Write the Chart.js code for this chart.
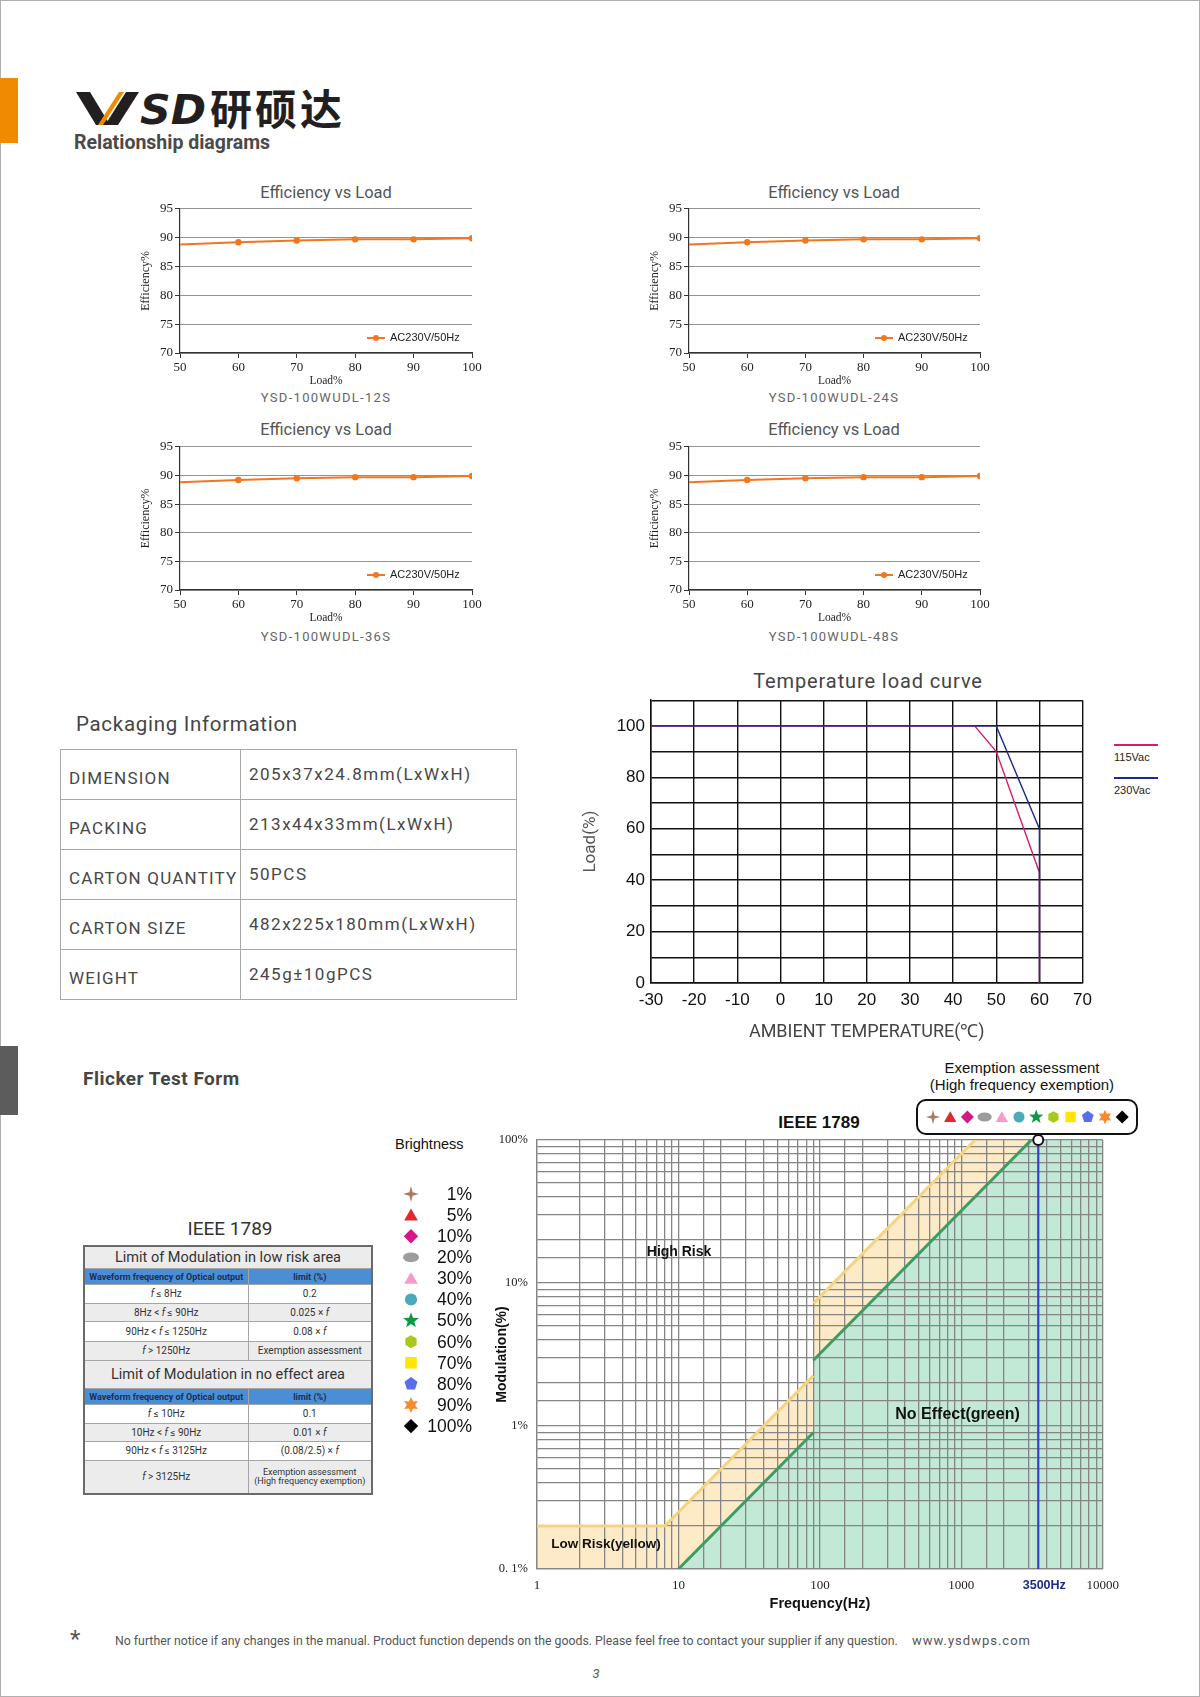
<!DOCTYPE html>
<html lang="en">
<head>
<meta charset="UTF-8">
<title>YSD-100WUDL relationship diagrams</title>
<script src="https://cdn.jsdelivr.net/npm/chart.js"></script>
<style>
  html, body { margin: 0; padding: 0; background: #fff; }
  #page {
    position: relative; width: 1200px; height: 1697px; overflow: hidden;
    font-family: Roboto, 'Noto Sans', sans-serif; color: #444;
  }
  .abs { position: absolute; }
  .frame { position: absolute; left: 0; top: 0; width: 1198px; height: 1695px; border: 1px solid #b0b0b0; }
  .ctr { position: absolute; width: 400px; text-align: center; white-space: nowrap; }
  .eff-title { font-size: 16.5px; color: #555; line-height: 20px; }
  .eff-sub { font-size: 13px; color: #666; letter-spacing: 1.3px; line-height: 16px; }
  .chart-box { position: absolute; }
  #pack { border-collapse: collapse; table-layout: fixed; border: 1px solid #9a9a9a; }
  #pack td { border: 1px solid #a8a8a8; height: 49px; padding: 0 0 0 8px; font-size: 17px; letter-spacing: 1.2px; color: #474747; }
  #pack td.k { padding-top: 6px; height: 43px; }
  #pack td.v { padding-bottom: 2px; height: 47px; letter-spacing: 1.5px; }
  #ieee { border-collapse: collapse; table-layout: fixed; border: 2px solid #6a6a6a; }
  #ieee td { border: 1px solid #a5a5a5; padding: 0; text-align: center; font-size: 10px; color: #333; line-height: 10px; }
  #ieee tr.sec td { background: #ececec; font-size: 14.5px; color: #333; line-height: 16px; }
  #ieee tr.hd td { background: #4a8fd6; color: #1d2d55; font-size: 9px; font-weight: bold; }
  #ieee tr.g td { background: #ececec; }
  #ieee td.sm { font-size: 9px; line-height: 9.5px; }
  .sans { font-family: 'Liberation Sans', Arial, sans-serif; }
</style>
</head>
<body>
<div id="page">
  <div class="frame"></div>
  <div class="abs" style="left:0;top:78px;width:18px;height:65px;background:#f08a00"></div>
  <div class="abs" style="left:0;top:1046px;width:18px;height:69px;background:#5c5c5c"></div>

  <!-- logo -->
  <svg class="abs" style="left:74px;top:90px" width="134" height="38" viewBox="0 0 134 38">
    <polygon points="2,2 16,2 36,35 22,35" fill="#231f20"/>
    <polygon points="24,35 29,35 50,2 45,2" fill="#f08a00"/>
    <polygon points="31,35 44,35 65,2 52,2" fill="#231f20"/>
    <text x="66" y="34" font-family="DejaVu Sans" font-weight="bold" font-style="italic" font-size="40" textLength="66" lengthAdjust="spacingAndGlyphs" fill="#231f20">SD</text>
  </svg>
  <div class="abs" style="left:210px;top:83px;font-family:'Noto Sans CJK SC';font-weight:bold;font-size:42px;line-height:48px;color:#231f20;letter-spacing:3px">研硕达</div>
  <div class="abs" style="left:74px;top:131px;font-size:19.5px;font-weight:bold;color:#4a4a4a;line-height:24px">Relationship diagrams</div>

  <!-- efficiency charts -->
  <div class="ctr eff-title" style="left:126px;top:183px">Efficiency vs Load</div>
  <div class="ctr eff-title" style="left:634px;top:183px">Efficiency vs Load</div>
  <div class="ctr eff-title" style="left:126px;top:420px">Efficiency vs Load</div>
  <div class="ctr eff-title" style="left:634px;top:420px">Efficiency vs Load</div>
  <div class="ctr eff-sub" style="left:126px;top:390px">YSD-100WUDL-12S</div>
  <div class="ctr eff-sub" style="left:634px;top:390px">YSD-100WUDL-24S</div>
  <div class="ctr eff-sub" style="left:126px;top:629px">YSD-100WUDL-36S</div>
  <div class="ctr eff-sub" style="left:634px;top:629px">YSD-100WUDL-48S</div>
  <div class="chart-box" id="box12"><canvas id="eff12"></canvas></div>
  <div class="chart-box" id="box24"><canvas id="eff24"></canvas></div>
  <div class="chart-box" id="box36"><canvas id="eff36"></canvas></div>
  <div class="chart-box" id="box48"><canvas id="eff48"></canvas></div>

  <!-- packaging -->
  <div class="abs" style="left:76px;top:711px;font-size:20.5px;letter-spacing:0.7px;color:#454545;line-height:26px">Packaging Information</div>
  <table id="pack" class="abs" style="left:60px;top:749px;width:456px">
    <colgroup><col style="width:180px"><col style="width:276px"></colgroup>
    <tr><td class="k">DIMENSION</td><td class="v">205x37x24.8mm(LxWxH)</td></tr>
    <tr><td class="k">PACKING</td><td class="v">213x44x33mm(LxWxH)</td></tr>
    <tr><td class="k">CARTON QUANTITY</td><td class="v">50PCS</td></tr>
    <tr><td class="k">CARTON SIZE</td><td class="v">482x225x180mm(LxWxH)</td></tr>
    <tr><td class="k">WEIGHT</td><td class="v">245g±10gPCS</td></tr>
  </table>

  <!-- temperature load curve -->
  <div class="ctr" style="left:668px;top:668px;font-size:20px;letter-spacing:0.9px;color:#444;line-height:26px">Temperature load curve</div>
  <div class="chart-box" id="boxTemp"><canvas id="tempChart"></canvas></div>
  <div class="abs" style="left:1114px;top:744px;width:44px;height:1.5px;background:#d81b72"></div>
  <div class="abs sans" style="left:1114px;top:750px;font-size:11px;color:#222;line-height:14px">115Vac</div>
  <div class="abs" style="left:1114px;top:777px;width:44px;height:1.5px;background:#1e2a8c"></div>
  <div class="abs sans" style="left:1114px;top:783px;font-size:11px;color:#222;line-height:14px">230Vac</div>

  <!-- flicker -->
  <div class="abs" style="left:83px;top:1067px;font-size:19px;font-weight:bold;color:#454545;line-height:24px;letter-spacing:0.5px">Flicker Test Form</div>
  <div class="ctr" style="left:30px;top:1217px;font-size:19px;color:#333;line-height:24px">IEEE 1789</div>
  <table id="ieee" class="abs" style="left:83px;top:1245px;width:288px">
    <colgroup><col style="width:164px"><col style="width:124px"></colgroup>
    <tr class="sec"><td colspan="2" style="height:21px">Limit of Modulation in low risk area</td></tr>
    <tr class="hd"><td style="height:15px">Waveform frequency of Optical output</td><td>limit (%)</td></tr>
    <tr><td style="height:18px"><i>f</i> ≤ 8Hz</td><td>0.2</td></tr>
    <tr class="g"><td style="height:17px">8Hz &lt; <i>f</i> ≤ 90Hz</td><td>0.025 × <i>f</i></td></tr>
    <tr><td style="height:19px">90Hz &lt; <i>f</i> ≤ 1250Hz</td><td>0.08 × <i>f</i></td></tr>
    <tr class="g"><td style="height:18px"><i>f</i> &gt; 1250Hz</td><td>Exemption assessment</td></tr>
    <tr class="sec"><td colspan="2" style="height:27px">Limit of Modulation in no effect area</td></tr>
    <tr class="hd"><td style="height:15px">Waveform frequency of Optical output</td><td>limit (%)</td></tr>
    <tr><td style="height:18px"><i>f</i> ≤ 10Hz</td><td>0.1</td></tr>
    <tr class="g"><td style="height:17px">10Hz &lt; <i>f</i> ≤ 90Hz</td><td>0.01 × <i>f</i></td></tr>
    <tr><td style="height:18px">90Hz &lt; <i>f</i> ≤ 3125Hz</td><td>(0.08/2.5) × <i>f</i></td></tr>
    <tr class="g"><td style="height:32px"><i>f</i> &gt; 3125Hz</td><td class="sm">Exemption assessment<br>(High frequency exemption)</td></tr>
  </table>

  <div class="abs sans" style="left:395px;top:1135px;font-size:14.5px;color:#111;line-height:18px">Brightness</div>
  <canvas id="brightLegend" class="abs" style="left:395px;top:1180px" width="90" height="260"></canvas>

  <div class="ctr sans" style="left:822px;top:1059px;font-size:15px;color:#111;line-height:17px">Exemption assessment<br>(High frequency exemption)</div>
  <div class="ctr sans" style="left:619px;top:1113px;font-size:17px;font-weight:bold;color:#111;line-height:20px">IEEE 1789</div>
  <div class="chart-box" id="boxFlicker"><canvas id="flickerChart"></canvas></div>
  <canvas id="exemptBox" class="abs" style="left:915px;top:1098px" width="226" height="40"></canvas>

  <!-- footer -->
  <div class="abs" style="left:70px;top:1626px;font-size:24px;color:#555;line-height:26px">*</div>
  <div class="abs" style="left:115px;top:1633px;font-size:12.3px;color:#555;line-height:16px;white-space:nowrap">No further notice if any changes in the manual. Product function depends on the goods. Please feel free to contact your supplier if any question.</div>
  <div class="abs" style="left:912px;top:1632px;font-size:13px;color:#555;letter-spacing:1px;line-height:17px">www.ysdwps.com</div>
  <div class="ctr" style="left:396px;top:1665px;font-size:13px;font-style:italic;color:#555;line-height:18px">3</div>
</div>

<script>
// ---- efficiency vs load ----
const loadPct = [50, 60, 70, 80, 90, 100];
const eff12S = [88.8, 89.2, 89.5, 89.7, 89.7, 89.9];
const eff24S = [88.8, 89.2, 89.5, 89.7, 89.7, 89.9];
const eff36S = [88.8, 89.2, 89.5, 89.7, 89.7, 89.9];
const eff48S = [88.8, 89.2, 89.5, 89.7, 89.7, 89.9];
const effSeriesName = "AC230V/50Hz";

// ---- temperature derating ----
const ambient115 = [-30, 45, 50, 60, 60];
const load115 = [100, 100, 90, 43, 0];
const ambient230 = [-30, 50, 60, 60];
const load230 = [100, 100, 60, 0];
const loadTickLabels = [0, 20, 40, 60, 80, 100];

// ---- flicker (IEEE 1789) ----
const lowRiskFreq = [1, 8, 90, 90, 1250, 10000];
const lowRiskMod = [0.2, 0.2, 2.25, 7.2, 100, 100];
const noEffectFreq = [10, 90, 90, 3125, 10000];
const noEffectMod = [0.1, 0.9, 2.88, 100, 100];
const exemptFreq = [3500, 3500];
const exemptMod = [0.1, 100];
const exemptLabel = "3500Hz";
const freqTickValues = [1, 10, 100, 1000, 10000];
const freqTickLabels = ["1", "10", "100", "1000", "10000"];
const modTickValues = [0.1, 1, 10, 100];
const modTickLabels = ["0. 1%", "1%", "10%", "100%"];
const zoneNames = ["High Risk", "No Effect(green)", "Low Risk(yellow)"];
const zoneFreq = [10.1, 940, 3.07];
const zoneMod = [16.4, 1.2, 0.15];
const zoneFontPx = [14, 16, 13.5];

// ---- brightness levels (markers) ----
const brightness = ["1%", "5%", "10%", "20%", "30%", "40%", "50%", "60%", "70%", "80%", "90%", "100%"];
const markerShapes = ["star4", "triangle", "diamond", "ellipse", "triangle", "circle", "star5", "hexagon", "square", "pentagon", "star6", "diamond"];
const markerColors = ["#a97a62", "#e0292f", "#d6168a", "#9c9c9c", "#f79cc9", "#4aa9ba", "#0e9a45", "#a8c81c", "#ffe500", "#5b6cec", "#f58b2c", "#000000"];

const SERIF = "'Liberation Serif', 'DejaVu Serif', serif";
const SANS = "'Liberation Sans', Arial, sans-serif";
const ORANGE = "#f2761c";

Chart.defaults.animation = false;

function placeBox(id, plot, pad) {
	// size the holder so the chart area lands on the given plot rectangle
	const box = document.getElementById(id);
	box.style.left = plot.left - pad.yw + "px";
	box.style.top = plot.top - pad.pt + "px";
	box.style.width = plot.width + pad.yw + pad.pr + "px";
	box.style.height = plot.height + pad.pt + pad.xh + "px";
}

// legend drawn inside the plot, lower right
const innerLegend = {
	id: "innerLegend",
	afterDatasetsDraw(chart) {
		const { ctx, chartArea: a } = chart;
		const ds = chart.data.datasets[0];
		const x0 = a.right - 105;
		const y0 = a.bottom - 15;
		ctx.save();
		ctx.strokeStyle = ds.borderColor;
		ctx.lineWidth = 2;
		ctx.beginPath();
		ctx.moveTo(x0, y0);
		ctx.lineTo(x0 + 18, y0);
		ctx.stroke();
		ctx.fillStyle = ds.borderColor;
		ctx.beginPath();
		ctx.arc(x0 + 9, y0, 3, 0, Math.PI * 2);
		ctx.fill();
		ctx.fillStyle = "#222";
		ctx.font = "11px " + SANS;
		ctx.textBaseline = "middle";
		ctx.fillText(ds.label, x0 + 23, y0);
		ctx.restore();
	},
};

function efficiencyChart(canvasId, boxId, values, plot) {
	const pad = { yw: 44, pt: 8, pr: 16, xh: 40 };
	placeBox(boxId, plot, pad);
	new Chart(document.getElementById(canvasId), {
		type: "line",
		data: {
			datasets: [
				{
					label: effSeriesName,
					data: loadPct.map((x, i) => ({ x, y: values[i] })),
					borderColor: ORANGE,
					backgroundColor: ORANGE,
					borderWidth: 2,
					pointRadius: (ctx) => (ctx.dataIndex === 0 ? 0 : 3.2),
					pointBorderWidth: 0,
				},
			],
		},
		options: {
			responsive: true,
			maintainAspectRatio: false,
			layout: { padding: { top: pad.pt, right: pad.pr, left: 0, bottom: 0 } },
			plugins: { legend: { display: false }, tooltip: { enabled: false } },
			scales: {
				x: {
					type: "linear",
					min: 50,
					max: 100,
					ticks: { stepSize: 10, color: "#222", font: { family: SERIF, size: 13 }, padding: 2, maxRotation: 0 },
					grid: { drawOnChartArea: false, tickLength: 5, tickColor: "#333" },
					border: { color: "#333", width: 1.2 },
					title: { display: true, text: "Load%", color: "#222", font: { family: SERIF, size: 11.5 }, padding: { top: 0, bottom: 5 } },
					afterFit: (s) => { s.height = pad.xh; },
				},
				y: {
					min: 70,
					max: 95,
					ticks: { stepSize: 5, color: "#222", font: { family: SERIF, size: 13 }, padding: 2 },
					grid: { color: "#949494", lineWidth: 1, tickLength: 5, tickColor: "#333" },
					border: { color: "#333", width: 1.2 },
					title: { display: true, text: "Efficiency%", color: "#222", font: { family: SERIF, size: 12 }, padding: { top: 3, bottom: 0 } },
					afterFit: (s) => { s.width = pad.yw; },
				},
			},
		},
		plugins: [innerLegend],
	});
}

efficiencyChart("eff12", "box12", eff12S, { left: 180, top: 207, width: 292, height: 146 });
efficiencyChart("eff24", "box24", eff24S, { left: 689, top: 207, width: 291, height: 146 });
efficiencyChart("eff36", "box36", eff36S, { left: 180, top: 445, width: 292, height: 145 });
efficiencyChart("eff48", "box48", eff48S, { left: 689, top: 445, width: 291, height: 145 });

// ---- temperature load curve ----
(function () {
	const pad = { yw: 70, pt: 14, pr: 16, xh: 60 };
	placeBox("boxTemp", { left: 651, top: 698, width: 432, height: 285 }, pad);
	new Chart(document.getElementById("tempChart"), {
		type: "line",
		data: {
			datasets: [
				{
					label: "230Vac",
					data: ambient230.map((x, i) => ({ x, y: load230[i] })),
					borderColor: "#1e2a8c",
					borderWidth: 1.4,
					pointRadius: 0,
					order: 0,
				},
				{
					label: "115Vac",
					data: ambient115.map((x, i) => ({ x, y: load115[i] })),
					borderColor: "#d81b72",
					borderWidth: 1.4,
					pointRadius: 0,
					order: 1,
				},
			],
		},
		options: {
			responsive: true,
			maintainAspectRatio: false,
			layout: { padding: { top: pad.pt, right: pad.pr, left: 0, bottom: 0 } },
			plugins: { legend: { display: false }, tooltip: { enabled: false } },
			scales: {
				x: {
					type: "linear",
					min: -30,
					max: 70,
					ticks: { stepSize: 10, color: "#111", font: { family: SANS, size: 17 }, padding: 7, maxRotation: 0 },
					grid: { color: "#111", lineWidth: 1.4, drawTicks: false },
					border: { color: "#111", width: 1.5 },
					title: { display: true, text: "AMBIENT TEMPERATURE(℃)", color: "#444", font: { family: "Roboto", size: 18 }, padding: { top: 0, bottom: 0 } },
					afterFit: (s) => { s.height = pad.xh; },
				},
				y: {
					min: 0,
					max: 110,
					ticks: {
						stepSize: 10,
						color: "#111",
						font: { family: SANS, size: 17 },
						padding: 6,
						callback: (v) => (loadTickLabels.includes(v) ? String(v) : ""),
					},
					grid: { color: "#111", lineWidth: 1.4, drawTicks: false },
					border: { color: "#111", width: 1.5 },
					title: { display: true, text: "Load(%)", color: "#555", font: { family: "Roboto", size: 17 }, padding: { top: 0, bottom: 0 } },
					afterFit: (s) => { s.width = pad.yw; },
				},
			},
		},
	});
})();

// ---- flicker chart ----
function labelFor(values, labels, v) {
	const i = values.findIndex((t) => Math.abs(v - t) / t < 1e-6);
	return i >= 0 ? labels[i] : "";
}

const flickerMarks = {
	id: "flickerMarks",
	afterDatasetsDraw(chart) {
		const { ctx, scales } = chart;
		const x = scales.x;
		const y = scales.y;
		ctx.save();
		ctx.fillStyle = "#111";
		ctx.textAlign = "center";
		ctx.textBaseline = "middle";
		zoneNames.forEach((name, i) => {
			ctx.font = "bold " + zoneFontPx[i] + "px " + SANS;
			ctx.fillText(name, x.getPixelForValue(zoneFreq[i]), y.getPixelForValue(zoneMod[i]));
		});
		ctx.font = "bold 12.5px " + SANS;
		ctx.fillStyle = "#1c2a8c";
		ctx.fillText(exemptLabel, x.getPixelForValue(exemptFreq[0]) + 6, y.bottom + 17);
		ctx.restore();
	},
};

// hide the vertical jumps at 90 Hz and the runs along the 100 % edge
const edgeColor = (color) => (ctx) =>
	ctx.p0.parsed.x === ctx.p1.parsed.x || (ctx.p0.parsed.y >= 100 && ctx.p1.parsed.y >= 100) ? "rgba(0,0,0,0)" : color;

(function () {
	const pad = { yw: 50, pt: 20, pr: 20, xh: 46 };
	placeBox("boxFlicker", { left: 537, top: 1140, width: 571, height: 429 }, pad);
	new Chart(document.getElementById("flickerChart"), {
		type: "line",
		data: {
			datasets: [
				{
					label: "exempt",
					data: exemptFreq.map((x, i) => ({ x, y: exemptMod[i] })),
					borderColor: "#3a3fc6",
					borderWidth: 2.2,
					pointRadius: (ctx) => (ctx.dataIndex === 1 ? 5 : 0),
					pointBackgroundColor: "#fff",
					pointBorderColor: "#111",
					pointBorderWidth: 2,
					clip: false,
					order: 0,
				},
				{
					label: "no effect",
					data: noEffectFreq.map((x, i) => ({ x, y: noEffectMod[i] })),
					borderColor: "#3f9b63",
					backgroundColor: "#c1e9d5",
					borderWidth: 3,
					fill: "start",
					pointRadius: 0,
					segment: { borderColor: edgeColor("#3f9b63") },
					order: 1,
				},
				{
					label: "low risk",
					data: lowRiskFreq.map((x, i) => ({ x, y: lowRiskMod[i] })),
					borderColor: "#f6d47e",
					backgroundColor: "#fcebc6",
					borderWidth: 3,
					fill: "start",
					pointRadius: 0,
					segment: { borderColor: edgeColor("#f6d47e") },
					order: 2,
				},
			],
		},
		options: {
			responsive: true,
			maintainAspectRatio: false,
			layout: { padding: { top: pad.pt, right: pad.pr, left: 0, bottom: 0 } },
			plugins: { legend: { display: false }, tooltip: { enabled: false }, filler: { drawTime: "beforeDraw" } },
			scales: {
				x: {
					type: "logarithmic",
					min: 1,
					max: 10000,
					ticks: {
						autoSkip: false,
						maxRotation: 0,
						color: "#222",
						font: { family: SERIF, size: 13 },
						padding: 9,
						callback: (v) => labelFor(freqTickValues, freqTickLabels, v),
					},
					grid: { color: "#858585", lineWidth: 1.3, drawTicks: false },
					border: { color: "#858585", width: 1.3 },
					title: { display: true, text: "Frequency(Hz)", color: "#111", font: { family: SANS, size: 14.5, weight: "bold" }, padding: { top: 0, bottom: 2 } },
					afterFit: (s) => { s.height = pad.xh; },
				},
				y: {
					type: "logarithmic",
					min: 0.1,
					max: 100,
					ticks: {
						autoSkip: false,
						color: "#222",
						font: { family: SERIF, size: 12.5 },
						padding: 9,
						callback: (v) => labelFor(modTickValues, modTickLabels, v),
					},
					grid: { color: "#858585", lineWidth: 1.3, drawTicks: false },
					border: { color: "#858585", width: 1.3 },
					title: { display: true, text: "Modulation(%)", color: "#111", font: { family: SANS, size: 14, weight: "bold" }, padding: { top: 7, bottom: 0 } },
					afterFit: (s) => { s.width = pad.yw; },
				},
			},
		},
		plugins: [flickerMarks],
	});
})();

// ---- marker symbols ----
function polygonPath(ctx, x, y, n, r, rot) {
	for (let k = 0; k < n; k++) {
		const a = rot + (k * 2 * Math.PI) / n;
		const px = x + r * Math.cos(a);
		const py = y + r * Math.sin(a);
		if (k === 0) ctx.moveTo(px, py);
		else ctx.lineTo(px, py);
	}
	ctx.closePath();
}

function starPath(ctx, x, y, n, ro, ri) {
	for (let k = 0; k < n * 2; k++) {
		const a = -Math.PI / 2 + (k * Math.PI) / n;
		const r = k % 2 === 0 ? ro : ri;
		const px = x + r * Math.cos(a);
		const py = y + r * Math.sin(a);
		if (k === 0) ctx.moveTo(px, py);
		else ctx.lineTo(px, py);
	}
	ctx.closePath();
}

function drawSymbol(ctx, shape, x, y, r, color) {
	ctx.save();
	ctx.fillStyle = color;
	ctx.beginPath();
	const up = -Math.PI / 2;
	if (shape === "star4") starPath(ctx, x, y, 4, r * 1.1, r * 0.32);
	else if (shape === "triangle") polygonPath(ctx, x, y + r * 0.2, 3, r * 1.1, up);
	else if (shape === "diamond") polygonPath(ctx, x, y, 4, r * 1.0, up);
	else if (shape === "ellipse") ctx.ellipse(x, y, r * 1.1, r * 0.68, 0, 0, Math.PI * 2);
	else if (shape === "circle") ctx.arc(x, y, r * 0.85, 0, Math.PI * 2);
	else if (shape === "star5") starPath(ctx, x, y, 5, r * 1.15, r * 0.48);
	else if (shape === "hexagon") polygonPath(ctx, x, y, 6, r * 0.9, up);
	else if (shape === "square") ctx.rect(x - r * 0.8, y - r * 0.8, r * 1.6, r * 1.6);
	else if (shape === "pentagon") polygonPath(ctx, x, y, 5, r * 0.95, up);
	else if (shape === "star6") starPath(ctx, x, y, 6, r * 1.1, r * 0.58);
	ctx.fill();
	ctx.restore();
}

(function () {
	const ctx = document.getElementById("brightLegend").getContext("2d");
	ctx.font = "17.5px " + SANS;
	ctx.textAlign = "right";
	ctx.textBaseline = "middle";
	brightness.forEach((label, i) => {
		const y = 14 + i * 21.1;
		drawSymbol(ctx, markerShapes[i], 16, y, 7.2, markerColors[i]);
		ctx.fillStyle = "#111";
		ctx.fillText(label, 77, y + 1);
	});
})();

(function () {
	const ctx = document.getElementById("exemptBox").getContext("2d");
	ctx.strokeStyle = "#111";
	ctx.lineWidth = 2;
	ctx.beginPath();
	ctx.roundRect(2, 2, 220, 34, 9);
	ctx.stroke();
	brightness.forEach((_, i) => {
		drawSymbol(ctx, markerShapes[i], 18 + i * 17.2, 19, 6.5, markerColors[i]);
	});
})();
</script>
</body>
</html>
